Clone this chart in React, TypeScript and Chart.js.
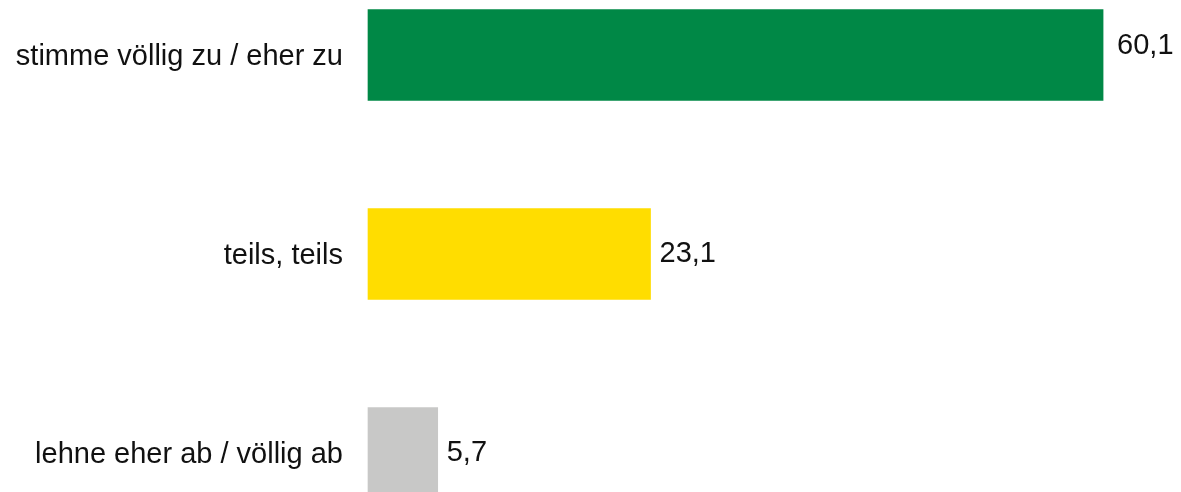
import React, { useEffect, useRef } from "react";
import { Chart, registerables } from "chart.js";

Chart.register(...registerables);

const categories = ["stimme völlig zu / eher zu", "teils, teils", "lehne eher ab / völlig ab"];
const values = [60.1, 23.1, 5.7];
const barColors = ["#008846", "#FFDD00", "#C8C8C7"];

const FONT = "'Liberation Sans', Arial, sans-serif";

const valueLabels = {
  id: "valueLabels",
  afterDatasetsDraw(chart: any) {
    const ctx = chart.ctx;
    const meta = chart.getDatasetMeta(0);
    ctx.save();
    ctx.font = `29px ${FONT}`;
    ctx.fillStyle = "#111111";
    ctx.textAlign = "left";
    ctx.textBaseline = "middle";
    meta.data.forEach((el: any, i: number) => {
      const v = chart.data.datasets[0].data[i] as number;
      const txt = v.toFixed(1).replace(".", ",");
      const dy = i === 0 ? -9 : 0;
      const dx = i === 0 ? 14 : 9;
      ctx.fillText(txt, el.x + dx, el.y + dy);
    });
    ctx.restore();
  },
};

export default function App() {
  const ref = useRef<HTMLCanvasElement | null>(null);
  useEffect(() => {
    if (!ref.current) return;
    const chart = new Chart(ref.current, {
      type: "bar",
      data: {
        labels: categories,
        datasets: [
          {
            data: values,
            backgroundColor: barColors,
            borderWidth: 0,
            barThickness: 91,
            clip: false as any,
          },
        ],
      },
      options: {
        indexAxis: "y",
        animation: false,
        responsive: false,
        maintainAspectRatio: false,
        layout: { padding: { top: 55, bottom: 39, left: 0, right: 18 } },
        plugins: { legend: { display: false }, tooltip: { enabled: false } },
        scales: {
          x: { display: false, min: 0, max: 65 },
          y: {
            offset: false,
            grid: { display: false, drawTicks: false },
            border: { display: false },
            ticks: {
              padding: 25,
              labelOffset: 2,
              color: "#111111",
              font: { family: FONT, size: 29 },
              autoSkip: false,
            },
            afterFit: (s: any) => {
              s.width = 368;
              s.paddingTop = 0;
              s.paddingBottom = 0;
            },
          },
        },
      },
      plugins: [valueLabels],
    });
    return () => chart.destroy();
  }, []);
  return (
    <div style={{ position: "fixed", left: 0, top: 0, width: 1181, height: 492, background: "#fff" }}>
      <canvas ref={ref} width={1181} height={492} style={{ width: 1181, height: 492, display: "block" }} />
    </div>
  );
}
